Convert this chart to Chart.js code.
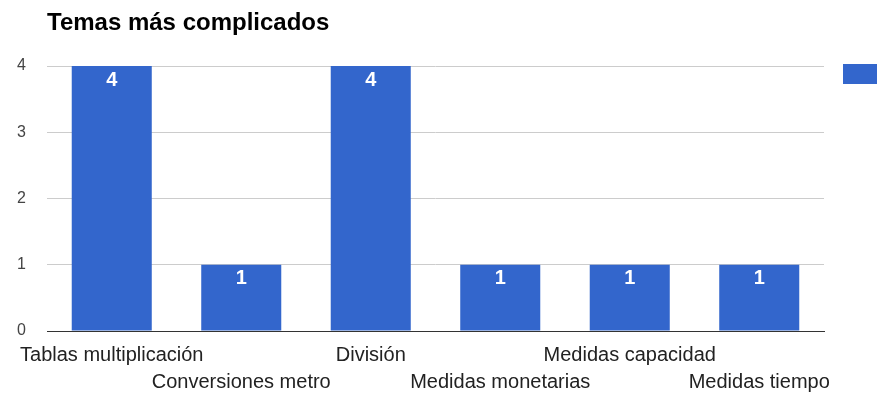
<!DOCTYPE html>
<html>
<head>
<meta charset="utf-8">
<script src="https://cdn.jsdelivr.net/npm/chart.js@4/dist/chart.umd.min.js"></script>
<style>
  body { margin: 0; background: #fff; overflow: hidden; }
</style>
</head>
<body>
<canvas id="chart" width="877" height="393"></canvas>
<script>
// Chart data
const categories = ['Tablas multiplicación', 'Conversiones metro', 'División',
                    'Medidas monetarias', 'Medidas capacidad', 'Medidas tiempo'];
const values = [4, 1, 4, 1, 1, 1];
const yTicks = [0, 1, 2, 3, 4];
const seriesLabel = 'Alumnos';

const FONT = '"Liberation Sans", Arial, sans-serif';
const BLUE = '#3366cc';

// stagger the x labels on two rows like the original
const staggered = categories.map((c, i) => i % 2 === 0 ? [c, ''] : ['', c]);

// white value labels inside the top of each bar
const valueLabels = {
    id: 'valueLabels',
    afterDatasetsDraw(chart) {
        const ctx = chart.ctx;
        const meta = chart.getDatasetMeta(0);
        ctx.save();
        ctx.fillStyle = '#fff';
        ctx.font = 'bold 20px ' + FONT;
        ctx.textAlign = 'center';
        ctx.textBaseline = 'middle';
        meta.data.forEach((bar, i) => {
            ctx.fillText(String(values[i]), bar.x, bar.y + 14);
        });
        ctx.restore();
    }
};

new Chart(document.getElementById('chart').getContext('2d'), {
    type: 'bar',
    data: {
        labels: staggered,
        datasets: [{
            label: seriesLabel,
            data: values,
            backgroundColor: BLUE,
            borderWidth: 0,
            categoryPercentage: 1,
            barPercentage: 0.618
        }]
    },
    options: {
        responsive: false,
        animation: false,
        layout: { padding: 0 },
        plugins: {
            title: {
                display: true,
                text: 'Temas más complicados',
                align: 'start',
                fullSize: false,
                color: '#000',
                font: { family: FONT, size: 24, weight: 'bold', lineHeight: 1.2 },
                padding: { top: 9, bottom: 28.2 }
            },
            legend: {
                position: 'right',
                align: 'start',
                maxWidth: 53,
                title: { display: true, text: '', padding: { top: 30.6, bottom: 0 } },
                labels: {
                    boxWidth: 40,
                    boxHeight: 20,
                    padding: 19,
                    color: '#222',
                    font: { family: FONT, size: 12 }
                }
            },
            tooltip: { enabled: false }
        },
        scales: {
            x: {
                afterFit: axis => { axis.height = 62; },
                grid: { display: false, drawTicks: false },
                border: { display: true, color: '#333', width: 1 },
                ticks: {
                    autoSkip: false,
                    maxRotation: 0,
                    minRotation: 0,
                    padding: 11,
                    color: '#222',
                    font: { family: FONT, size: 20, lineHeight: 1.35 }
                }
            },
            y: {
                min: yTicks[0],
                max: yTicks[yTicks.length - 1],
                afterBuildTicks: axis => { axis.ticks = yTicks.map(v => ({ value: v })); },
                afterFit: axis => { axis.width = 47; },
                grid: {
                    drawTicks: false,
                    color: ctx => ctx.tick && ctx.tick.value === 0 ? 'rgba(0,0,0,0)' : '#ccc'
                },
                border: { display: false },
                ticks: {
                    padding: 21,
                    color: '#444',
                    font: { family: FONT, size: 16 }
                }
            }
        }
    },
    plugins: [valueLabels]
});
</script>
</body>
</html>
